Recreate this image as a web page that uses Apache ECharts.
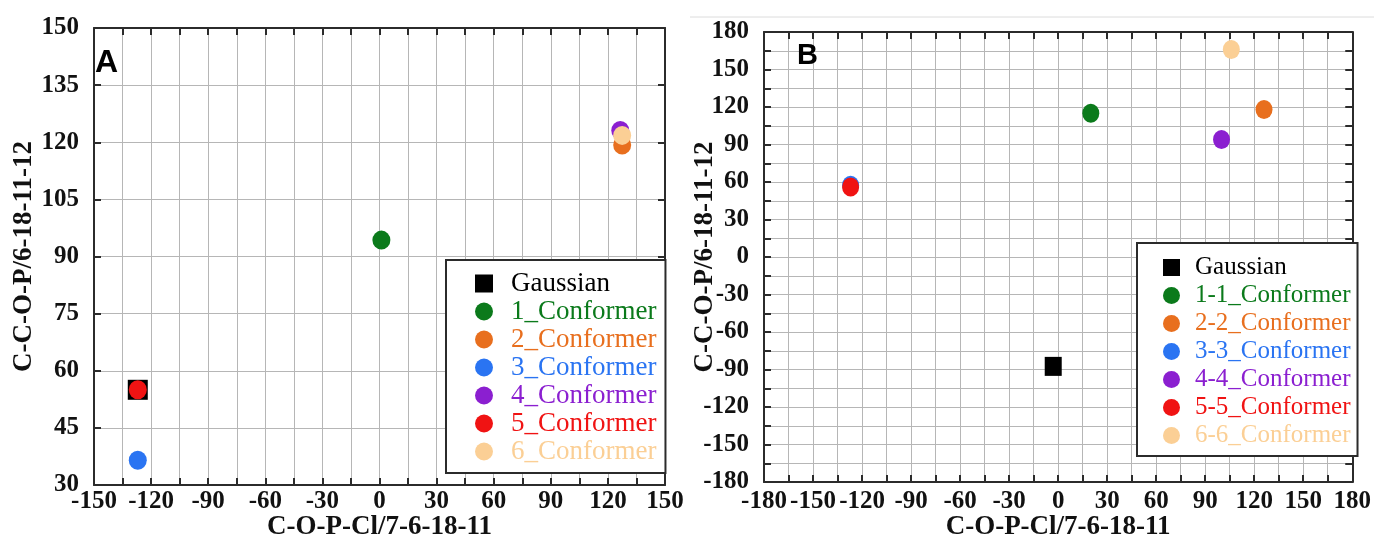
<!DOCTYPE html>
<html>
<head>
<meta charset="utf-8">
<style>
  html, body { margin: 0; padding: 0; background: #fff; }
  #chart { width: 1374px; height: 546px; }
</style>
<script src="https://cdn.jsdelivr.net/npm/echarts@6/dist/echarts.min.js"></script>
</head>
<body>
<div id="chart"></div>
<script>
// 数据
var namesA = ['Gaussian', '1_Conformer', '2_Conformer', '3_Conformer', '4_Conformer', '5_Conformer', '6_Conformer'];
var xA = [-127, 1, 127.5, -127, 126.5, -127, 127.5];
var yA = [55, 94.3, 119.3, 36.5, 123.1, 55, 121.8];

var namesB = ['Gaussian', '1-1_Conformer', '2-2_Conformer', '3-3_Conformer', '4-4_Conformer', '5-5_Conformer', '6-6_Conformer'];
var xB = [-3, 20, 126, -127, 100, -127, 106];
var yB = [-87.5, 115, 118, 57.5, 94, 56, 166];

var colors = ['#000000', '#0b7a1b', '#e86f1e', '#2a74f2', '#8b1fd0', '#f01313', '#fbcf95'];

var xName = 'C-O-P-Cl/7-6-18-11';
var yName = 'C-C-O-P/6-18-11-12';

var serif = '"Liberation Serif", "Times New Roman", serif';
var frameColor = '#2b2b2b';
var gridColor = '#b6b6b6';

function every30(v) {
    return v % 30 === 0 ? String(v) : '';
}

function axisPair(dim, g, min, max, hideOdd, labelMargin, nameGap) {
    var main = {
        gridIndex: g,
        type: 'value',
        min: min,
        max: max,
        interval: 15,
        position: dim === 'x' ? 'bottom' : 'left',
        axisLine: { show: true, onZero: false, lineStyle: { color: frameColor, width: 2 } },
        axisTick: { show: true, inside: true, length: 7, lineStyle: { color: frameColor, width: 2 } },
        axisLabel: {
            fontFamily: serif, fontWeight: 'bold', fontSize: 25, color: '#111',
            margin: labelMargin,
            formatter: hideOdd ? every30 : function (v) { return String(v); }
        },
        splitLine: { show: true, lineStyle: { color: gridColor, width: 1 } },
        name: dim === 'x' ? xName : yName,
        nameLocation: 'middle',
        nameGap: nameGap,
        nameMoveOverlap: false,
        nameTextStyle: { fontFamily: serif, fontWeight: 'bold', fontSize: 27, color: '#111' }
    };
    var mirror = {
        gridIndex: g,
        type: 'value',
        min: min,
        max: max,
        interval: 15,
        position: dim === 'x' ? 'top' : 'right',
        axisLine: { show: true, onZero: false, lineStyle: { color: frameColor, width: 2 } },
        axisTick: { show: true, inside: true, length: 7, lineStyle: { color: frameColor, width: 2 } },
        axisLabel: { show: false },
        splitLine: { show: false }
    };
    return [main, mirror];
}

function makeSeries(names, xs, ys, g, sizeCircle, sizeSquare) {
    return names.map(function (n, i) {
        return {
            name: n,
            type: 'scatter',
            xAxisIndex: g * 2,
            yAxisIndex: g * 2,
            symbol: i === 0 ? 'rect' : 'circle',
            symbolSize: i === 0 ? sizeSquare : sizeCircle,
            itemStyle: { color: colors[i], opacity: 1 },
            data: [[xs[i], ys[i]]],
            z: 3 + i
        };
    });
}

function makeLegend(names, left, top, fontSize, gap, pad, iconSize, textShift) {
    return {
        orient: 'vertical',
        left: left,
        top: top,
        padding: pad,
        itemGap: gap,
        itemWidth: iconSize,
        itemHeight: iconSize,
        backgroundColor: '#fff',
        borderColor: frameColor,
        borderWidth: 2,
        z: 10,
        data: names.map(function (n, i) {
            return {
                name: n,
                icon: i === 0 ? 'rect' : 'circle',
                textStyle: {
                    color: colors[i], fontFamily: serif, fontSize: fontSize,
                    padding: [0, 0, 0, textShift]
                }
            };
        })
    };
}

var chart = echarts.init(document.getElementById('chart'));

var xa = axisPair('x', 0, -150, 150, true, 4, 29);
var ya = axisPair('y', 0, 30, 150, false, 15, 56);
var xb = axisPair('x', 1, -180, 180, true, 7, 32);
var yb = axisPair('y', 1, -180, 180, true, 15, 45);

var option = {
    backgroundColor: '#fff',
    animation: false,
    grid: [
        { left: 94, top: 28, width: 571, height: 459 },
        { left: 764, top: 32, width: 589, height: 461 }
    ],
    xAxis: xa.concat(xb),
    yAxis: ya.concat(yb),
    legend: [
        makeLegend(namesA, 446, 260, 27, 1, [10, 9, 8, 29], 18, 13),
        makeLegend(namesB, 1137, 243, 25, 3, [12, 7, 8, 26], 17, 10)
    ],
    graphic: [
        { type: 'line', shape: { x1: 690, y1: 17, x2: 1374, y2: 17 }, style: { stroke: '#dcdcdc', lineWidth: 1 } },
        { type: 'text', left: 95, top: 47, style: { text: 'A', font: 'bold 32px "Liberation Sans", Arial, sans-serif', fill: '#000' }, z: 20 },
        { type: 'text', left: 797, top: 41, style: { text: 'B', font: 'bold 29px "Liberation Sans", Arial, sans-serif', fill: '#000' }, z: 20 }
    ],
    series: makeSeries(namesA, xA, yA, 0, [18, 19], 20)
        .concat(makeSeries(namesB, xB, yB, 1, [17, 19], [17, 19]))
};

chart.setOption(option);
</script>
</body>
</html>
